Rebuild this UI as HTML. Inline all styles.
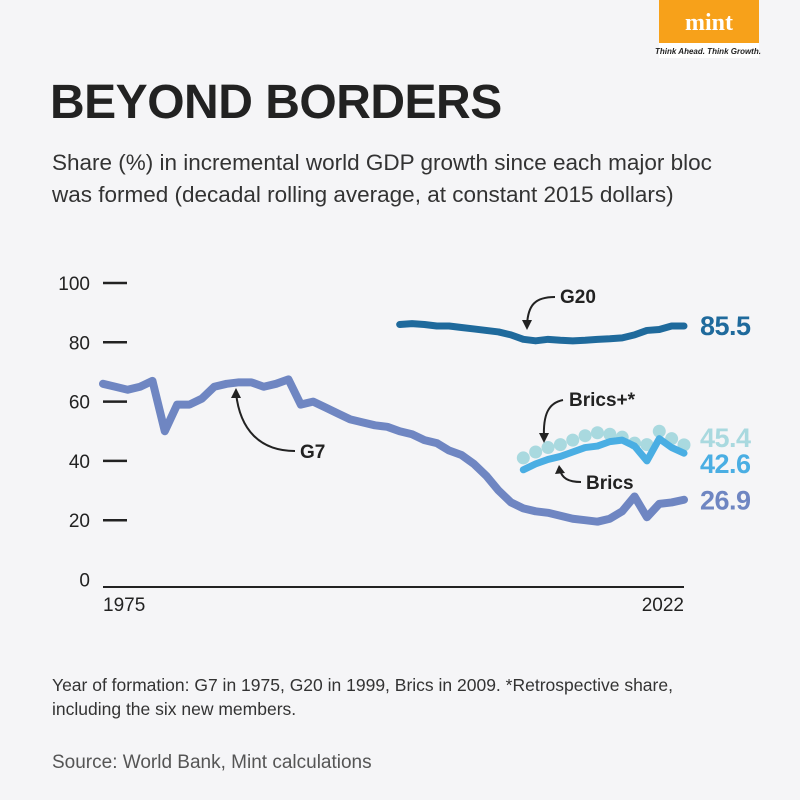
<!DOCTYPE html>
<html><head><meta charset="utf-8"><style>
body{margin:0;background:#f5f5f7;}
svg{display:block;font-family:"Liberation Sans",sans-serif;}
</style></head><body>
<svg width="800" height="800" viewBox="0 0 800 800">
<rect width="800" height="800" fill="#f5f5f7"/>
<g>
<rect x="659" y="0" width="100" height="58" fill="#fff"/>
<rect x="659" y="0" width="100" height="43" fill="#f7a11a"/>
<text x="709" y="30" text-anchor="middle" font-family="Liberation Serif,serif" font-weight="bold" font-size="24" fill="#fff">mint</text>
<text x="708" y="54" text-anchor="middle" font-size="8" font-style="italic" font-weight="bold" fill="#222">Think Ahead. Think Growth.</text>
</g>
<text x="50" y="118" font-size="48" font-weight="bold" fill="#222" letter-spacing="-0.5">BEYOND BORDERS</text>
<text font-size="22.5" fill="#333"><tspan x="52" y="170">Share (%) in incremental world GDP growth since each major bloc</tspan><tspan x="52" y="202">was formed (decadal rolling average, at constant 2015 dollars)</tspan></text>
<g id="axes"></g>
<g id="marks"></g>
<g font-weight="bold" font-size="19" fill="#222">
<path d="M555 297 C535 297 528 305 527 325" stroke="#222" stroke-width="2" fill="none"/><path d="M522 320 L527 330 L532 320Z" fill="#222"/>
<text x="560" y="303">G20</text>
<path d="M295 451 C260 451 240 430 236 393" stroke="#222" stroke-width="2" fill="none"/><path d="M231 398 L236 388 L241 398Z" fill="#222"/>
<text x="300" y="458">G7</text>
<path d="M563 400 C548 403 543 415 544 438" stroke="#222" stroke-width="2" fill="none"/><path d="M539 433 L544 443 L549 433Z" fill="#222"/>
<text x="569" y="406">Brics+*</text>
<path d="M581 482 C568 482 562 478 560 470" stroke="#222" stroke-width="2" fill="none"/><path d="M555 474 L559 465 L565 473Z" fill="#222"/>
<text x="586" y="489">Brics</text>
</g>
<text font-size="17.5" fill="#333"><tspan x="52" y="691">Year of formation: G7 in 1975, G20 in 1999, Brics in 2009. *Retrospective share,</tspan><tspan x="52" y="715">including the six new members.</tspan></text>
<text x="52" y="768" font-size="19" fill="#555">Source: World Bank, Mint calculations</text>
</svg>
<script>
const yTicks=[0,20,40,60,80,100];
const g7Years=[1975,1976,1977,1978,1979,1980,1981,1982,1983,1984,1985,1986,1987,1988,1989,1990,1991,1992,1993,1994,1995,1996,1997,1998,1999,2000,2001,2002,2003,2004,2005,2006,2007,2008,2009,2010,2011,2012,2013,2014,2015,2016,2017,2018,2019,2020,2021,2022];
const g7Values=[66,65,64,65,67,50,59,59,61,65,66,66.5,66.5,65,66,67.5,59,60,58,56,54,53,52,51.5,50,49,47,46,43.5,42,39,35,30,26,24,23,22.5,21.5,20.5,20,19.5,20.5,23,28,21,25.5,26,26.9];
const g20Years=[1999,2000,2001,2002,2003,2004,2005,2006,2007,2008,2009,2010,2011,2012,2013,2014,2015,2016,2017,2018,2019,2020,2021,2022];
const g20Values=[86,86.3,86,85.5,85.5,85,84.5,84,83.5,82.5,81,80.5,81,80.7,80.5,80.7,81,81.2,81.5,82.5,84,84.3,85.5,85.5];
const bricsYears=[2009,2010,2011,2012,2013,2014,2015,2016,2017,2018,2019,2020,2021,2022];
const bricsValues=[37,39,40.5,41.5,43,44.5,45,46.5,47,45,40,47.5,44.5,42.6];
const bricsPlusValues=[41,43,44.5,45.5,47,48.5,49.5,49,48,46,45.5,50,47.5,45.4];
const X=y=>103+(y-1975)*(581/47);
const Y=v=>579.5-v*2.965;
const NS="http://www.w3.org/2000/svg";
function mk(t,a,p){const e=document.createElementNS(NS,t);for(const k in a)e.setAttribute(k,a[k]);p.appendChild(e);return e;}
const axes=document.getElementById('axes'),marks=document.getElementById('marks');
yTicks.forEach(v=>{
 const t=mk('text',{x:90,y:Y(v)+7,'text-anchor':'end','font-size':19,fill:'#222'},axes);t.textContent=v;
 
 
 if(v>0){const l=mk('line',{x1:103,x2:127,y1:Y(v),y2:Y(v),stroke:'#222','stroke-width':2.5},axes);
 
 }
});
const ax=mk('line',{x1:103,x2:684,y1:587,y2:587,stroke:'#222','stroke-width':2},axes);


[[1975,'start'],[2022,'end']].forEach(([yr,a])=>{const t=mk('text',{x:X(yr),y:611,'text-anchor':a,'font-size':19,fill:'#222'},axes);t.textContent=yr;
 
 });
function line(xs,vs,col,w,name){const p=mk('path',{d:xs.map((x,i)=>(i?'L':'M')+X(x)+' '+Y(vs[i])).join(''),stroke:col,'stroke-width':w,fill:'none','stroke-linejoin':'round','stroke-linecap':'round'},marks);
 
 }
bricsYears.forEach((yr,i)=>{const c=mk('circle',{cx:X(yr),cy:Y(bricsPlusValues[i]),r:6.5,fill:'#a9d9df'},marks);
 
 });
line(g7Years,g7Values,'#6f86c2',8,'g7-line');
line(g20Years,g20Values,'#1f6a9c',7,'g20-line');
line(bricsYears,bricsValues,'#4aaee3',7,'brics-line');
function endLabel(v,col,dy,name){const t=mk('text',{x:700,y:Y(v)+dy,'font-size':27,'font-weight':'bold',fill:col,'letter-spacing':'-0.5'},marks);t.textContent=v.toFixed(1);
 
 }
endLabel(g20Values[g20Values.length-1],'#1f6a9c',9,'g20-end-value');
endLabel(bricsPlusValues[bricsPlusValues.length-1],'#a9d9df',2,'brics-plus-end-value');
endLabel(bricsValues[bricsValues.length-1],'#4aaee3',20,'brics-end-value');
endLabel(g7Values[g7Values.length-1],'#6f86c2',10,'g7-end-value');
</script>
</body></html>
